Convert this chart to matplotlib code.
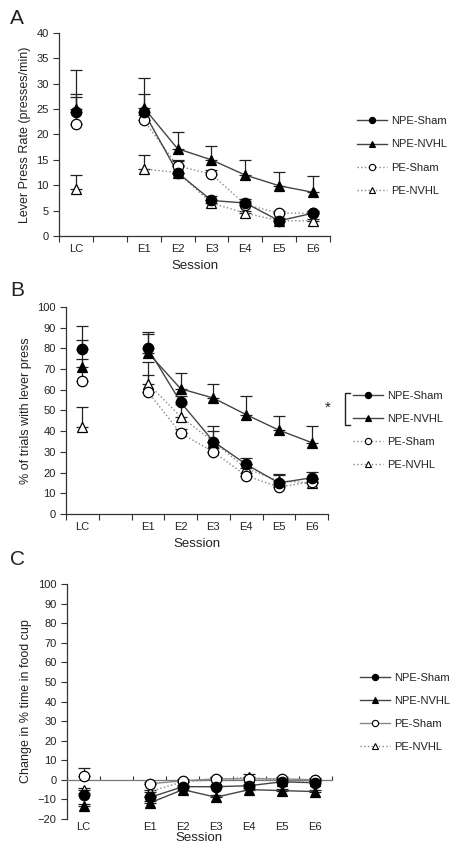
import matplotlib.pyplot as plt
from matplotlib.lines import Line2D
import numpy as np

plt.rcParams['font.family'] = ['Liberation Sans', 'DejaVu Sans']

sessions = ["LC", "E1", "E2", "E3", "E4", "E5", "E6"]
groups = ["NPE-Sham", "NPE-NVHL", "PE-Sham", "PE-NVHL"]

# panel A: lever press rate (mean, upper SEM)
rate_npe_sham = [24.5, 24.5, 12.5, 7.0, 6.5, 3.0, 4.5]
rate_npe_nvhl = [25.0, 25.3, 17.2, 15.0, 12.0, 9.9, 8.6]
rate_pe_sham = [22.0, 22.8, 13.8, 12.2, 6.2, 4.5, 4.5]
rate_pe_nvhl = [9.2, 13.2, 12.5, 6.5, 4.5, 3.0, 3.0]
rate_err_npe_sham = [3.5, 3.4, 1.5, 0.8, 0.7, 0.5, 0.5]
rate_err_npe_nvhl = [7.8, 5.9, 3.3, 2.8, 2.9, 2.7, 3.3]
rate_err_pe_sham = [5.3, 1.0, 1.2, 0.8, 0.6, 0.5, 0.5]
rate_err_pe_nvhl = [2.8, 2.8, 2.3, 0.6, 0.5, 0.4, 0.4]

# panel B: % of trials with lever press
pct_npe_sham = [79.5, 80.0, 54.0, 35.0, 24.0, 15.0, 17.5]
pct_npe_nvhl = [71.0, 78.0, 60.5, 56.0, 48.0, 40.5, 34.5]
pct_pe_sham = [64.0, 59.0, 39.0, 30.0, 18.5, 13.0, 15.5]
pct_pe_nvhl = [42.0, 63.0, 47.0, 35.0, 22.0, 16.0, 15.0]
pct_err_npe_sham = [11.5, 8.0, 3.0, 7.5, 3.0, 4.5, 3.0]
pct_err_npe_nvhl = [13.0, 9.0, 7.5, 6.7, 9.0, 7.0, 8.0]
pct_err_pe_sham = [11.0, 8.0, 2.0, 2.0, 1.5, 1.0, 1.5]
pct_err_pe_nvhl = [9.5, 10.5, 6.0, 5.0, 2.0, 3.0, 2.0]

# panel C: change in % time in food cup
cup_npe_sham = [-7.5, -9.0, -3.5, -3.5, -3.0, -1.0, -1.5]
cup_npe_nvhl = [-13.5, -11.8, -5.0, -8.9, -5.0, -5.5, -6.0]
cup_pe_sham = [2.0, -2.0, -0.5, 0.5, 0.5, 0.5, 0.0]
cup_pe_nvhl = [-5.0, -6.0, -1.0, 0.0, 1.5, -0.5, -0.5]
cup_err_npe_sham = [1.0, 1.0, 1.0, 1.0, 1.0, 1.0, 1.0]
cup_err_npe_nvhl = [1.0, 1.0, 1.0, 1.0, 1.0, 1.0, 1.0]
cup_err_pe_sham = [4.0, 1.0, 1.0, 1.0, 1.0, 1.0, 1.0]
cup_err_pe_nvhl = [1.0, 1.0, 1.0, 1.5, 1.5, 1.0, 1.0]

x_pos = np.array([0.5, 2.5, 3.5, 4.5, 5.5, 6.5, 7.5])
TXT = '#222222'

styles = {
    "NPE-Sham": dict(marker='o', mfc='black', color='#444444', ls='-'),
    "NPE-NVHL": dict(marker='^', mfc='black', color='#444444', ls='-'),
    "PE-Sham": dict(marker='o', mfc='white', color='#888888', ls=':'),
    "PE-NVHL": dict(marker='^', mfc='white', color='#888888', ls=':'),
}


def draw_group(ax, name, means, err, ls=None):
    st = dict(styles[name])
    if ls is not None:
        st['ls'] = ls
    means = np.array(means)
    err = np.array(err)
    # LC is a separate point, not joined to extinction sessions
    ax.errorbar(x_pos, means, yerr=[np.zeros_like(err), err], fmt='none',
                ecolor='#222222', elinewidth=0.9, capsize=4, capthick=0.9, zorder=2)
    ax.plot(x_pos[1:], means[1:], ls=st['ls'], color=st['color'], lw=1.0, zorder=3)
    ax.plot(x_pos, means, ls='none', marker=st['marker'], ms=7.5, mfc=st['mfc'],
            mec='black', mew=0.9, zorder=4)


def style_axes(ax, ylim, yticks, ylabel):
    ax.set_xlim(0, 8)
    ax.set_ylim(*ylim)
    ax.set_yticks(yticks)
    for s in ['top', 'right']:
        ax.spines[s].set_visible(False)
    for s in ['left', 'bottom']:
        ax.spines[s].set_color('#333333')
        ax.spines[s].set_linewidth(0.9)
    ax.set_xticks(np.arange(0, 9))
    ax.set_xticklabels([])
    ax.set_xticks(x_pos, minor=True)
    ax.set_xticklabels(sessions, minor=True)
    ax.tick_params(axis='x', which='minor', length=0, pad=6, labelsize=8, labelcolor=TXT)
    ax.tick_params(axis='x', which='major', length=4, color='#333333')
    ax.tick_params(axis='y', length=4, labelsize=8, labelcolor=TXT, color='#333333')
    ax.set_ylabel(ylabel, fontsize=9, color=TXT)


def add_legend(fig, x, y, ls_list):
    handles = []
    for name, ls in zip(groups, ls_list):
        st = styles[name]
        handles.append(Line2D([], [], ls=ls, color=st['color'], lw=1.0,
                              marker=st['marker'], ms=4.5, mfc=st['mfc'], mec='black', mew=0.8))
    fig.legend(handles, groups, loc='center left', bbox_to_anchor=(x, y), frameon=False,
               fontsize=8, labelspacing=1.18, handlelength=2.7, handletextpad=0.4,
               borderpad=0, labelcolor=TXT)


fig = plt.figure(figsize=(4.59, 8.48), dpi=100)

# Panel A
axA = fig.add_axes([0.1285, 0.7217, 0.5905, 0.2394])
draw_group(axA, "PE-NVHL", rate_pe_nvhl, rate_err_pe_nvhl)
draw_group(axA, "PE-Sham", rate_pe_sham, rate_err_pe_sham)
draw_group(axA, "NPE-NVHL", rate_npe_nvhl, rate_err_npe_nvhl)
draw_group(axA, "NPE-Sham", rate_npe_sham, rate_err_npe_sham)
style_axes(axA, (0, 40), np.arange(0, 41, 5), "Lever Press Rate (presses/min)")
axA.set_xlabel("Session", fontsize=9.5, color=TXT, labelpad=4)
add_legend(fig, 0.765, 0.816, ['-', '-', ':', ':'])
fig.text(0.022, 0.978, "A", fontsize=15, color=TXT, va='center')

# Panel B
axB = fig.add_axes([0.1438, 0.3939, 0.5708, 0.2441])
draw_group(axB, "PE-NVHL", pct_pe_nvhl, pct_err_pe_nvhl)
draw_group(axB, "PE-Sham", pct_pe_sham, pct_err_pe_sham)
draw_group(axB, "NPE-NVHL", pct_npe_nvhl, pct_err_npe_nvhl)
draw_group(axB, "NPE-Sham", pct_npe_sham, pct_err_npe_sham)
style_axes(axB, (0, 100), np.arange(0, 101, 10), "% of trials with lever press")
axB.set_xlabel("Session", fontsize=9.5, color=TXT, labelpad=4)
add_legend(fig, 0.757, 0.4923, ['-', '-', ':', ':'])
fig.text(0.022, 0.658, "B", fontsize=15, color=TXT, va='center')
# significance bracket between NPE-Sham and NPE-NVHL
fig.add_artist(Line2D([0.762, 0.752, 0.752, 0.762], [0.5365, 0.5365, 0.4988, 0.4988],
                      color='#222222', lw=1.0))
fig.text(0.715, 0.519, "*", fontsize=11, color=TXT, ha='center', va='center')

# Panel C
axC = fig.add_axes([0.146, 0.0342, 0.577, 0.2771])
draw_group(axC, "PE-NVHL", cup_pe_nvhl, cup_err_pe_nvhl)
draw_group(axC, "PE-Sham", cup_pe_sham, cup_err_pe_sham, ls='-')
draw_group(axC, "NPE-NVHL", cup_npe_nvhl, cup_err_npe_nvhl)
draw_group(axC, "NPE-Sham", cup_npe_sham, cup_err_npe_sham)
style_axes(axC, (-20, 100), np.arange(-20, 101, 10), "Change in % time in food cup")
axC.spines['bottom'].set_position(('data', 0))
axC.spines['bottom'].set_color('#777777')
axC.tick_params(axis='x', which='major', direction='in', length=3)
axC.tick_params(axis='x', which='minor', labelbottom=False)
secC = axC.secondary_xaxis(location=0)
secC.spines['bottom'].set_visible(False)
secC.set_xticks(x_pos)
secC.set_xticklabels(sessions)
secC.tick_params(length=0, pad=2, labelsize=8, labelcolor=TXT)
secC.set_xlabel("Session", fontsize=9.5, color=TXT, labelpad=0)
add_legend(fig, 0.772, 0.160, ['-', '-', '-', ':'])
fig.text(0.022, 0.340, "C", fontsize=15, color=TXT, va='center')

fig.savefig("out.png", dpi=100)
